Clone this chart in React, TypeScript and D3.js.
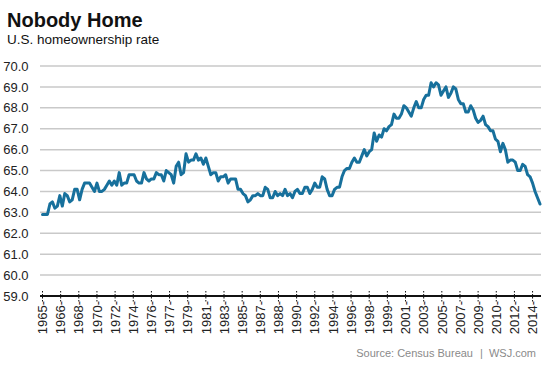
import React from "react";
import * as d3 from "d3";

const startYear = 1965;
// Quarterly U.S. homeownership rate, 1965 Q1 - 2015 Q2
const rates: number[] = [
  62.9, 62.9, 62.9, 63.4,
  63.5, 63.2, 63.3, 63.8,
  63.3, 63.9, 63.8, 63.5,
  63.6, 64.1, 64.1, 63.6,
  64.1, 64.4, 64.4, 64.4,
  64.2, 64.0, 64.4, 64.0,
  64.0, 64.1, 64.3, 64.5,
  64.3, 64.5, 64.3, 64.9,
  64.3, 64.4, 64.4, 64.8,
  64.8, 64.8, 64.5, 64.4,
  64.4, 64.9, 64.6, 64.5,
  64.6, 64.6, 64.9, 64.8,
  64.8, 64.5, 65.0, 64.9,
  64.8, 64.4, 65.2, 65.4,
  64.8, 64.9, 65.8, 65.4,
  65.5, 65.5, 65.8, 65.5,
  65.6, 65.3, 65.6, 65.2,
  64.8, 64.9, 64.9, 64.5,
  64.7, 64.7, 64.8, 64.4,
  64.6, 64.6, 64.6, 64.1,
  64.1, 63.9, 63.8, 63.5,
  63.6, 63.8, 63.8, 63.9,
  63.8, 63.8, 64.2, 64.1,
  63.7, 63.7, 64.0, 63.8,
  63.9, 63.8, 64.1, 63.8,
  63.9, 63.7, 64.0, 64.1,
  63.9, 63.9, 64.2, 64.2,
  63.9, 64.1, 64.4, 64.2,
  64.2, 64.7, 64.6, 64.1,
  63.8, 63.8, 64.1, 64.2,
  64.2, 64.7, 65.0, 65.1,
  65.1, 65.4, 65.6, 65.4,
  65.4, 65.7, 66.0, 65.7,
  65.9, 66.0, 66.8, 66.4,
  66.7, 66.6, 67.0, 66.9,
  67.1, 67.2, 67.7, 67.5,
  67.5, 67.7, 68.1, 68.0,
  67.8, 67.6, 68.0, 68.3,
  68.0, 68.0, 68.4, 68.6,
  68.6, 69.2, 69.0, 69.2,
  69.1, 68.6, 68.8, 69.0,
  68.5, 68.7, 69.0, 68.9,
  68.4, 68.2, 68.2, 67.8,
  67.8, 68.1, 67.9, 67.5,
  67.3, 67.4, 67.6, 67.2,
  67.1, 66.9, 66.9, 66.5,
  66.4, 65.9, 66.3, 66.0,
  65.4, 65.5, 65.5, 65.4,
  65.0, 65.0, 65.3, 65.2,
  64.8, 64.7, 64.4, 64.0,
  63.7, 63.4,
];

const tickDates: string[] = [
  "1965-01", "1966-11", "1968-09", "1970-07", "1972-05", "1974-03", "1976-01",
  "1977-11", "1979-09", "1981-07", "1983-05", "1985-03", "1987-01", "1988-11",
  "1990-09", "1992-07", "1994-05", "1996-03", "1998-01", "1999-11", "2001-09",
  "2003-07", "2005-05", "2007-03", "2009-01", "2010-11", "2012-09", "2014-07",
];

const yTicks: number[] = [59, 60, 61, 62, 63, 64, 65, 66, 67, 68, 69, 70];

const title = "Nobody Home";
const subtitle = "U.S. homeownership rate";
const sourceParts: string[] = ["Source: Census Bureau", "|", "WSJ.com"];

const W = 553;
const H = 369;
const font = "'Liberation Sans', Arial, Helvetica, sans-serif";

function monthIndex(d: string): number {
  const [y, m] = d.split("-").map(Number);
  return (y - startYear) * 12 + (m - 1);
}

export default function App() {
  const lastMonth = (rates.length - 1) * 3;
  const x = d3.scaleLinear().domain([0, lastMonth]).range([42.5, 540]);
  const y = d3.scaleLinear().domain([59, 70]).range([296, 66]);

  const line = d3
    .line<number>()
    .x((_, i) => x(i * 3))
    .y((d) => y(d))
    .curve(d3.curveLinear);

  const gridX0 = 40;
  const gridX1 = 541;

  return (
    <svg
      width={W}
      height={H}
      style={{ position: "absolute", left: 0, top: 0, background: "#fff" }}
      fontFamily={font}
    >
      <rect x={0} y={0} width={W} height={H} fill="#fff" />
      <text x={7} y={26.5} fontSize={20} fontWeight="bold" fill="#111">
        {title}
      </text>
      <text x={7} y={43.5} fontSize={13.5} fill="#111">
        {subtitle}
      </text>

      {yTicks.map((t) => (
        <g key={t}>
          {t !== 59 && (
            <line
              x1={gridX0}
              x2={gridX1}
              y1={y(t)}
              y2={y(t)}
              stroke="#c9c9c9"
              strokeWidth={1.5}
            />
          )}
          <text
            x={28.5}
            y={y(t)}
            dy="0.36em"
            textAnchor="end"
            fontSize={13}
            fill="#222"
          >
            {t.toFixed(1)}
          </text>
        </g>
      ))}

      <path
        d={line(rates) || ""}
        fill="none"
        stroke="#17709c"
        strokeWidth={3}
        strokeLinejoin="round"
        strokeLinecap="round"
      />

      <line x1={gridX0} x2={gridX1} y1={y(59)} y2={y(59)} stroke="#111" strokeWidth={2} />

      {tickDates.map((d) => {
        const tx = x(monthIndex(d));
        return (
          <g key={d}>
            <line
              x1={tx}
              x2={tx}
              y1={y(59) - 5}
              y2={y(59) + 6}
              stroke="#111"
              strokeWidth={1}
              strokeDasharray="1.5,1.5"
            />
            <text
              transform={`translate(${tx},${y(59) + 5}) rotate(-90)`}
              textAnchor="end"
              dy="0.36em"
              fontSize={13}
              fill="#222"
            >
              {d.slice(0, 4) + "-"}
            </text>
          </g>
        );
      })}

      <g fontSize={11} fill="#8a8a8a">
        <text x={473} y={357} textAnchor="end">{sourceParts[0]}</text>
        <text x={481.5} y={357} textAnchor="middle">{sourceParts[1]}</text>
        <text x={536} y={357} textAnchor="end">{sourceParts[2]}</text>
      </g>
    </svg>
  );
}
